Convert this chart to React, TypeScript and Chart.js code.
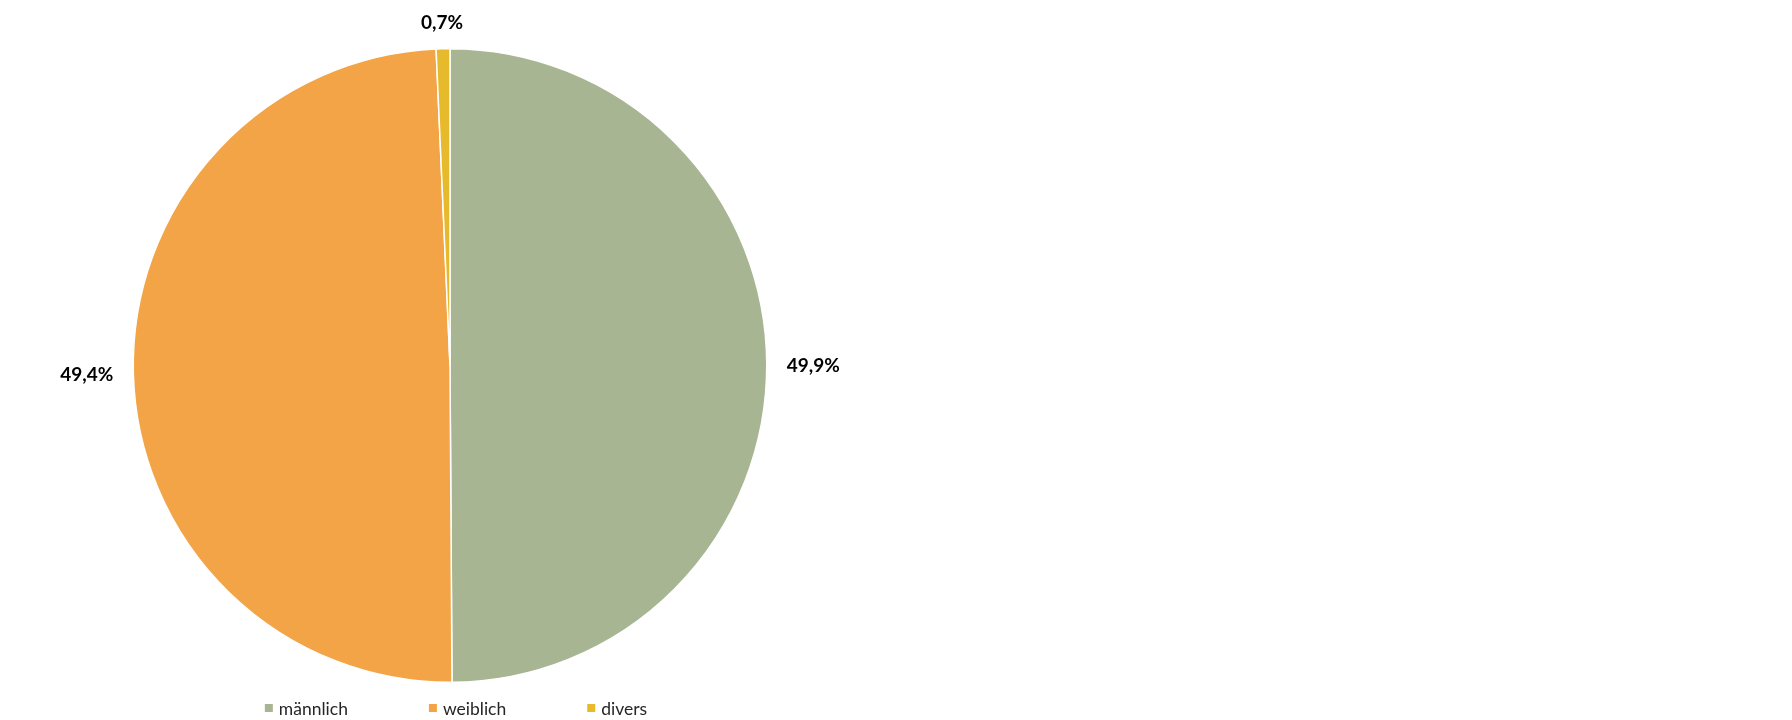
import React, { useEffect, useRef } from "react";
import { Chart, registerables } from "chart.js";

Chart.register(...registerables);

const categories = ["männlich", "weiblich", "divers"];
const shares = [49.9, 49.4, 0.7];
const colors = ["#A7B592", "#F2A446", "#E6BA2A"];

const FONT = "Lato, 'Open Sans', sans-serif";

const labelPlugin = {
  id: "outsideLabels",
  afterDatasetsDraw(chart: any) {
    const ctx = chart.ctx;
    const meta = chart.getDatasetMeta(0);
    const ds = chart.data.datasets[0];
    ctx.save();
    ctx.font = `bold 19px ${FONT}`;
    ctx.fillStyle = "#000000";
    ctx.textAlign = "center";
    ctx.textBaseline = "middle";
    meta.data.forEach((arc: any, i: number) => {
      const p = arc.getProps(["x", "y", "startAngle", "endAngle", "outerRadius"], true);
      const mid = (p.startAngle + p.endAngle) / 2;
      const txt = (ds.data[i] as number).toFixed(1).replace(".", ",") + "%";
      const w = ctx.measureText(txt).width;
      const h = 14;
      const off = 20;
      const cx = p.x + Math.cos(mid) * (p.outerRadius + off) + Math.cos(mid) * (w / 2);
      const cy = p.y + Math.sin(mid) * (p.outerRadius + off) + Math.sin(mid) * (h / 2) + 1;
      ctx.fillText(txt, cx, cy);
    });
    ctx.restore();
  },
};

const legendPlugin = {
  id: "customLegend",
  afterDraw(chart: any) {
    const ctx = chart.ctx;
    const labels = chart.data.labels as string[];
    const bg = chart.data.datasets[0].backgroundColor as string[];
    ctx.save();
    ctx.font = `17.5px ${FONT}`;
    ctx.textBaseline = "middle";
    ctx.textAlign = "left";
    const box = 8;
    const gapBT = 6;
    const gapItem = 81;
    const widths = labels.map((l) => ctx.measureText(l).width);
    const total =
      widths.reduce((a, w) => a + box + gapBT + w, 0) + gapItem * (labels.length - 1);
    const area = chart.chartArea;
    let x = (area.left + area.right) / 2 - total / 2 + 6;
    const y = 708;
    labels.forEach((l, i) => {
      ctx.fillStyle = bg[i];
      ctx.fillRect(x, y - box / 2, box, box);
      ctx.fillStyle = "#262626";
      ctx.fillText(l, x + box + gapBT, y + 1);
      x += box + gapBT + widths[i] + gapItem;
    });
    ctx.restore();
  },
};

export default function App() {
  const ref = useRef<HTMLCanvasElement | null>(null);
  useEffect(() => {
    if (!ref.current) return;
    const chart = new Chart(ref.current, {
      type: "pie",
      data: {
        labels: categories,
        datasets: [
          {
            data: shares,
            backgroundColor: colors,
            borderColor: "#FFFFFF",
            borderWidth: 1.5,
          },
        ],
      },
      options: {
        animation: false,
        responsive: false,
        maintainAspectRatio: false,
        layout: { padding: { top: 48, bottom: 37, left: 0, right: 0 } },
        plugins: {
          legend: { display: false },
          tooltip: { enabled: false },
        },
      },
      plugins: [labelPlugin, legendPlugin],
    });
    return () => chart.destroy();
  }, []);
  return (
    <div style={{ position: "fixed", left: 0, top: 0, width: 1792, height: 720, background: "#fff" }}>
      <canvas ref={ref} width={900} height={720} style={{ width: 900, height: 720 }} />
    </div>
  );
}
